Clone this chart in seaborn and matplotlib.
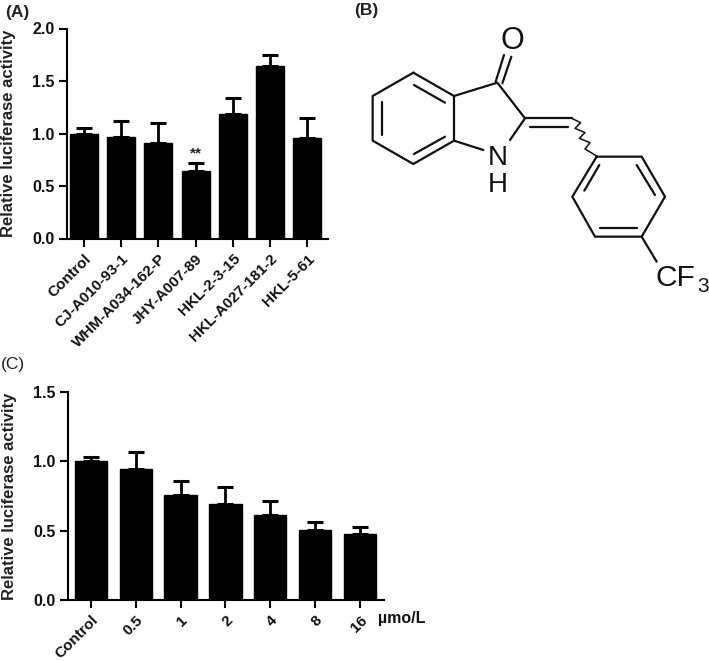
import matplotlib
matplotlib.use("Agg")
import matplotlib.pyplot as plt
from matplotlib.transforms import ScaledTranslation
import seaborn as sns
import pandas as pd

W, H = 709, 661

labels_a = ["Control", "CJ-A010-93-1", "WHM-A034-162-P", "JHY-A007-89", "HKL-2-3-15", "HKL-A027-181-2", "HKL-5-61"]
means_a = [1.00, 0.97, 0.91, 0.64, 1.19, 1.64, 0.96]
tops_a = [1.05, 1.12, 1.10, 0.72, 1.34, 1.75, 1.15]
yticks_a = [0.0, 0.5, 1.0, 1.5, 2.0]

labels_c = ["Control", "0.5", "1", "2", "4", "8", "16"]
means_c = [1.00, 0.945, 0.76, 0.695, 0.61, 0.505, 0.475]
tops_c = [1.03, 1.065, 0.86, 0.815, 0.715, 0.565, 0.525]
yticks_c = [0.0, 0.5, 1.0, 1.5]

sns.set_theme(style="ticks")
plt.rcParams["font.family"] = ["Liberation Sans", "DejaVu Sans"]

fig = plt.figure(figsize=(W / 100, H / 100), dpi=100)


def make_axes(l, t, r, b):
    return fig.add_axes([l / W, 1 - b / H, (r - l) / W, (b - t) / H])


def panel(ax, labels, means, tops, yticks, xlim, width):
    df = pd.DataFrame({"group": labels, "value": means})
    sns.barplot(data=df, x="group", y="value", color="black", width=width,
                saturation=1, ax=ax, edgecolor="black")
    for i, (m, t) in enumerate(zip(means, tops)):
        ax.errorbar(i, m, yerr=[[0], [t - m]], color="black", lw=2.0,
                    capsize=5.5, capthick=2.2)
    ax.set_xlim(*xlim)
    ax.set_ylim(yticks[0], yticks[-1])
    ax.set_yticks(yticks)
    ax.set_yticklabels([f"{v:.1f}" for v in yticks], fontsize=11.5, fontweight="bold", color="#111111")
    ax.set_xticks(range(len(labels)))
    ax.set_xticklabels(labels, rotation=45, ha="right", rotation_mode="anchor",
                       fontsize=11.0, fontweight="bold", color="#111111")
    shift = ScaledTranslation(-7 / 100, 0, fig.dpi_scale_trans)
    for t in ax.get_xticklabels():
        t.set_transform(t.get_transform() + shift)
    ax.set_xlabel("")
    ax.set_ylabel("Relative luciferase activity", fontsize=12, fontweight="bold", color="#222222")
    ax.tick_params(axis="y", width=1.5, length=6, color="black", pad=3)
    ax.tick_params(axis="x", width=1.5, length=6, color="black", pad=3.5)
    for s in ("top", "right"):
        ax.spines[s].set_visible(False)
    for s in ("left", "bottom"):
        ax.spines[s].set_linewidth(1.5)
        ax.spines[s].set_color("black")
    ax.patch.set_alpha(0)


ax_a = make_axes(67, 28.5, 328, 238.5)
panel(ax_a, labels_a, means_a, tops_a, yticks_a, (-0.457, 6.56), 0.75)
ax_a.text(3, 0.745, "**", ha="center", va="bottom", fontsize=11, fontweight="bold", color="#222222")
ax_a.yaxis.set_label_coords(-0.195, 0.5)

ax_c = make_axes(68, 392, 384, 600)
panel(ax_c, labels_c, means_c, tops_c, yticks_c, (-0.513, 6.54), 0.72)
ax_c.yaxis.set_label_coords(-0.161, 0.5)

# overlay in pixel coordinates: panel letters and structure drawing
ov = fig.add_axes([0, 0, 1, 1])
ov.set_xlim(0, W)
ov.set_ylim(H, 0)
ov.axis("off")
ov.patch.set_alpha(0)
ov.text(5, 12, "(A)", fontsize=12.5, fontweight="bold", va="center", color="#222222")
ov.text(354, 11, "(B)", fontsize=12.5, fontweight="bold", va="center", color="#222222")
ov.text(1, 364, "(C)", fontsize=12.5, color="#222222", va="center")
ov.text(378, 619, "µmo/L", fontsize=11.5, fontweight="bold", va="center", color="#111111")


def z(p):
    return 340 + p[0] / 3, p[1] / 3


bonds = [
    [(220, 218), (342, 288), (342, 422), (220, 492), (98, 422), (98, 288), (220, 218)],
    [(222, 255), (315, 308)], [(222, 462), (315, 410)], [(125, 305), (125, 405)],
    [(342, 288), (472, 248), (555, 355), (510, 420)],
    [(342, 422), (430, 450)],
    [(467, 245), (492, 165)], [(487, 250), (514, 170)],
    [(555, 355), (695, 355)], [(570, 380), (685, 380)],
    [(770, 470), (905, 470), (975, 590), (905, 710), (765, 710), (697, 590), (770, 470)],
    [(778, 495), (733, 572)], [(890, 495), (945, 585)], [(780, 685), (890, 685)],
    [(905, 710), (950, 785)],
]
for b in bonds:
    pts = [z(p) for p in b]
    ov.plot([p[0] for p in pts], [p[1] for p in pts], color="#111111", lw=1.6,
            solid_capstyle="round", solid_joinstyle="round")
wavy = [(695, 355), (722, 368), (705, 385), (735, 398), (718, 415), (750, 428), (735, 447), (770, 468)]
wp = [z(p) for p in wavy]
ov.plot([p[0] for p in wp], [p[1] for p in wp], color="#111111", lw=1.1)

atom = dict(family="Liberation Sans", color="#111111", ha="center", va="center")
ov.text(*z((516, 122)), "O", fontsize=22, **atom)
ov.text(*z((473, 474)), "N", fontsize=20, **atom)
ov.text(*z((473, 555)), "H", fontsize=20, **atom)
ov.text(*z((1005, 833)), "CF", fontsize=21.5, **atom)
ov.text(*z((1088, 860)), "3", fontsize=15, **atom)

fig.savefig("out.png", dpi=100)
